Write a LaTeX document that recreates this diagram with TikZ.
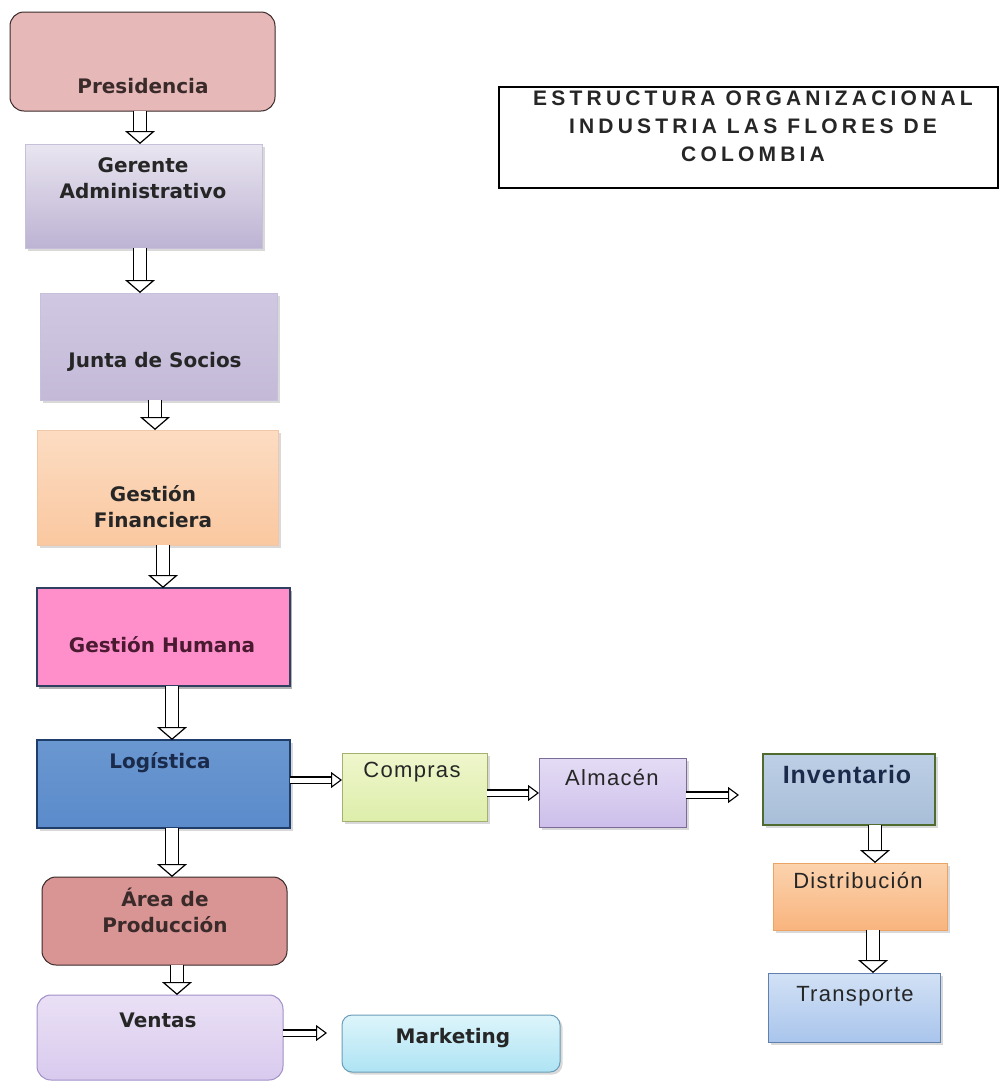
\documentclass[tikz,border=0pt]{standalone}
\usepackage{fontspec}
\setmainfont{DejaVu Sans}
\newfontfamily\arialfont[LetterSpace=6]{Liberation Sans}
\newfontfamily\invfont[LetterSpace=4]{Liberation Sans}
\newfontfamily\titlefont[LetterSpace=20]{Liberation Sans}
\usepackage{tikz}
\usetikzlibrary{positioning, arrows.meta, shadows}
\usepackage{xcolor}

\definecolor{presfill}{HTML}{E6B9B8}
\definecolor{darkdraw}{HTML}{3A2A2A}
\definecolor{areafill}{HTML}{D99594}
\definecolor{humfill}{HTML}{FF8FCB}
\definecolor{humdraw}{HTML}{2F4060}
\definecolor{humtext}{HTML}{4A1A30}
\definecolor{logtop}{HTML}{6A97D0}
\definecolor{logmid}{HTML}{3F6FB0}
\definecolor{logbot}{HTML}{5B8BCB}
\definecolor{logdraw}{HTML}{1F3D6B}
\definecolor{logtext}{HTML}{1A2A4A}
\definecolor{gertop}{HTML}{E9E5F0}
\definecolor{gerbot}{HTML}{BDB3D3}
\definecolor{gerdraw}{HTML}{C8C0DA}
\definecolor{juntatop}{HTML}{D0C8E2}
\definecolor{juntamid}{HTML}{E6E1EF}
\definecolor{juntabot}{HTML}{C4BAD8}
\definecolor{fintop}{HTML}{FCDCC2}
\definecolor{finbot}{HTML}{FAC8A0}
\definecolor{findraw}{HTML}{F0C8A8}
\definecolor{ventop}{HTML}{EAE0F5}
\definecolor{venbot}{HTML}{D8CAEE}
\definecolor{vendraw}{HTML}{A090C8}
\definecolor{mkttop}{HTML}{DDF5FB}
\definecolor{mktbot}{HTML}{AEE3F3}
\definecolor{mktdraw}{HTML}{6B9DB8}
\definecolor{comptop}{HTML}{EFF6CC}
\definecolor{compbot}{HTML}{DDEEAA}
\definecolor{compdraw}{HTML}{A3B070}
\definecolor{almtop}{HTML}{E4DCF5}
\definecolor{almbot}{HTML}{CDBFEA}
\definecolor{almdraw}{HTML}{7A6C98}
\definecolor{invtop}{HTML}{BDCFE5}
\definecolor{invbot}{HTML}{A8BED8}
\definecolor{invdraw}{HTML}{4F6B2E}
\definecolor{disttop}{HTML}{FBD3AE}
\definecolor{distbot}{HTML}{F9B47E}
\definecolor{distdraw}{HTML}{E9A466}
\definecolor{transtop}{HTML}{D2E1F5}
\definecolor{transbot}{HTML}{A9C5EC}
\definecolor{transdraw}{HTML}{6080B0}

\begin{document}
\begin{tikzpicture}[x=1pt, y=-1pt,
        box/.style={draw, inner sep=0pt, outer sep=0pt, line width=1pt},
        sz/.style 2 args={minimum width=#1pt, minimum height=#2pt},
        shad/.style={drop shadow={shadow xshift=2.5pt, shadow yshift=-2.5pt, opacity=0.3}},
        lbl/.style={anchor=base, inner sep=0pt, align=center, text=black!85,
          font=\bfseries\fontsize{20}{26}\selectfont},
        small/.style={anchor=base, inner sep=0pt, text=black!85,
          font=\arialfont\fontsize{22}{26}\selectfont},
        vhollow/.style={double, double distance=12pt, line width=1.2pt,
          -{Triangle[open, fill=white, length=13pt, width=30pt]}},
        hhollow/.style={double, double distance=5pt, line width=1.1pt,
          -{Triangle[open, fill=white, length=11pt, width=16pt]}},
      ]
      \useasboundingbox (0,0) rectangle (1004,1082);

      % main column
      \node[box, sz={265}{99}, rounded corners=14pt, fill=presfill, draw=darkdraw] (pres) at (142.5,61.5) {};
      \node[box, sz={237}{104}, shad, top color=gertop, bottom color=gerbot, draw=gerdraw] (ger) at (143.5,196) {};
      \node[box, sz={237}{107}, shad, top color=juntatop, middle color=juntamid, bottom color=juntabot, draw=gerdraw] (junta) at (158.5,346.5) {};
      \node[box, sz={241}{115}, shad, top color=fintop, bottom color=finbot, draw=findraw] (fin) at (157.5,487.5) {};
      \node[box, sz={253}{98}, line width=1.5pt, fill=humfill, draw=humdraw,
        drop shadow={shadow xshift=2pt, shadow yshift=-3pt, opacity=0.6}] (hum) at (163.5,637) {};
      \node[box, sz={253}{88}, line width=1.3pt, shad, top color=logtop, middle color=logmid,
        bottom color=logbot, draw=logdraw] (log) at (163.5,784) {};
      \node[box, sz={245}{88}, rounded corners=14pt, fill=areafill, draw=darkdraw] (area) at (164.5,921) {};
      \node[box, sz={246}{85}, rounded corners=14pt, top color=ventop, bottom color=venbot, draw=vendraw] (ventas) at (160,1037.5) {};
      \node[box, sz={218}{57}, rounded corners=10pt, shad, top color=mkttop, bottom color=mktbot, draw=mktdraw] (mkt) at (451,1043.5) {};

      % logistics branch
      \node[box, sz={145}{68}, shad, top color=comptop, bottom color=compbot, draw=compdraw] (comp) at (414.5,787) {};
      \node[box, sz={147}{69}, shad, top color=almtop, bottom color=almbot, draw=almdraw] (alm) at (612.5,792.5) {};
      \node[box, sz={172}{71}, line width=1.5pt, shad, top color=invtop, bottom color=invbot, draw=invdraw] (inv) at (849,789.5) {};
      \node[box, sz={174}{67}, shad, top color=disttop, bottom color=distbot, draw=distdraw] (dist) at (860,896.5) {};
      \node[box, sz={172}{69}, shad, top color=transtop, bottom color=transbot, draw=transdraw] (trans) at (854,1007.5) {};

      % title
      \node[box, sz={499}{101}, line width=1.6pt, fill=white] (title) at (748.5,137.5) {};

      % texts (anchor base = last line)
      \node[lbl, text=darkdraw] (presTxt) at (143,93) {Presidencia};
      \node[lbl] (gerTxt) at (143,198) {Gerente\\Administrativo};
      \node[lbl] (juntaTxt) at (155,367) {Junta de Socios};
      \node[lbl] (finTxt) at (153,527) {Gestión\\Financiera};
      \node[lbl, text=humtext] (humTxt) at (162,652) {Gestión Humana};
      \node[lbl, text=logtext] (logTxt) at (160,768) {Logística};
      \node[lbl, text=darkdraw] (areaTxt) at (165,932) {Área de\\Producción};
      \node[lbl] (ventasTxt) at (158,1027) {Ventas};
      \node[lbl] (mktTxt) at (453,1043) {Marketing};
      \node[small] (compTxt) at (412,777) {Compras};
      \node[small] (almTxt) at (612,785) {Almacén};
      \node[lbl, font=\invfont\bfseries\fontsize{25}{28}\selectfont, text=logtext] (invTxt) at (847,783) {Inventario};
      \node[small] (distTxt) at (858,888) {Distribución};
      \node[small] (transTxt) at (855,1001) {Transporte};
      \node[lbl, font=\titlefont\bfseries\fontsize{21}{28}\selectfont] (titleTxt) at (753,161)
        {ESTRUCTURA ORGANIZACIONAL\\INDUSTRIA LAS FLORES DE\\COLOMBIA};

      % arrows down the column
      \draw[vhollow] ([xshift=-2.5pt]pres.south) -- ([xshift=-3.5pt]ger.north);
      \draw[vhollow] ([xshift=-3.5pt]ger.south) -- ([xshift=-18.5pt]junta.north);
      \draw[vhollow] ([xshift=-3.5pt]junta.south) -- ([xshift=-2.5pt]fin.north);
      \draw[vhollow] ([xshift=5.5pt]fin.south) -- ([xshift=-0.5pt]hum.north);
      \draw[vhollow] ([xshift=8.5pt]hum.south) -- ([xshift=8.5pt]log.north);
      \draw[vhollow] ([xshift=8.5pt]log.south) -- ([xshift=7.5pt]area.north);
      \draw[vhollow] ([xshift=12.5pt]area.south) -- ([xshift=17pt]ventas.north);

      % side arrows
      \draw[hhollow] ([yshift=4pt]log.east) -- ([yshift=7pt]comp.west);
      \draw[hhollow] ([yshift=-6pt]comp.east) -- ([yshift=-0.5pt]alm.west);
      \draw[hhollow, shorten >=24pt] ([yshift=-2.5pt]alm.east) -- ([yshift=-5.5pt]inv.west);
      \draw[vhollow] ([xshift=26pt]inv.south) -- ([xshift=15pt]dist.north);
      \draw[vhollow] ([xshift=13pt]dist.south) -- ([xshift=19pt]trans.north);
      \draw[hhollow, shorten >=15pt] ([yshift=4.5pt]ventas.east) -- ([yshift=10.5pt]mkt.west);
    \end{tikzpicture}
\end{document}
